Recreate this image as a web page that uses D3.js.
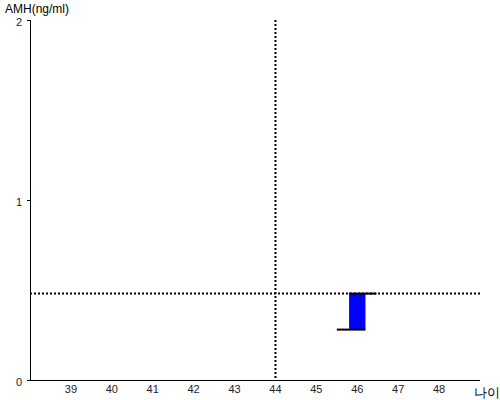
<!DOCTYPE html>
<html>
<head>
<meta charset="utf-8">
<script src="https://cdn.jsdelivr.net/npm/d3@7"></script>
<style>
  body { margin: 0; background: #fff; }
  text { font-family: "Liberation Sans", Arial, sans-serif; }
</style>
</head>
<body>
<script>
// data
const ageTicks = [39, 40, 41, 42, 43, 44, 45, 46, 47, 48];
const amhTicks = [0, 1, 2];
const refAge = 44;          // vertical dotted line
const refAmh = 0.48;        // horizontal dotted line
const barAge = [46];
const barTop = [0.48];
const barBottom = [0.28];

const w = 500, h = 400;

const x = d3.scaleLinear().domain([38, 49]).range([30, 480]);
const y = d3.scaleLinear().domain([0, 2]).range([380, 20]);

const svg = d3.select("body").append("svg")
  .attr("width", w).attr("height", h);

// axes
svg.append("line")
  .attr("x1", x(38) + 0.5).attr("x2", x(38) + 0.5)
  .attr("y1", y(2)).attr("y2", y(0))
  .attr("stroke", "#000").attr("stroke-width", 1);
svg.append("line")
  .attr("x1", x(38)).attr("x2", x(49))
  .attr("y1", y(0) + 0.5).attr("y2", y(0) + 0.5)
  .attr("stroke", "#000").attr("stroke-width", 1);

// y ticks
svg.selectAll(".yt").data(amhTicks).enter().append("line")
  .attr("x1", x(38) - 3).attr("x2", x(38))
  .attr("y1", d => Math.round(y(d)) + 0.5).attr("y2", d => Math.round(y(d)) + 0.5)
  .attr("stroke", "#000");
svg.selectAll(".yl").data(amhTicks).enter().append("text")
  .attr("x", 22).attr("y", d => y(d) + 6)
  .attr("text-anchor", "end")
  .attr("font-size", 11).attr("fill", "#222")
  .text(d => d);

// x labels
svg.selectAll(".xl").data(ageTicks).enter().append("text")
  .attr("x", d => x(d)).attr("y", 393)
  .attr("text-anchor", "middle")
  .attr("font-size", 11).attr("fill", "#222")
  .text(d => d);

// axis titles
svg.append("text").attr("x", 5).attr("y", 13)
  .attr("font-size", 12).attr("fill", "#000")
  .text("AMH(ng/ml)");
svg.append("text").attr("x", 474).attr("y", 397)
  .attr("font-family", "'Noto Sans CJK KR', sans-serif")
  .attr("font-size", 13).attr("fill", "#000")
  .text("나이");

// reference dotted lines
svg.append("line")
  .attr("x1", x(refAge)).attr("x2", x(refAge))
  .attr("y1", y(2)).attr("y2", y(0))
  .attr("stroke", "#000").attr("stroke-width", 2)
  .attr("stroke-dasharray", "2,2");
svg.append("line")
  .attr("x1", x(38)).attr("x2", x(49))
  .attr("y1", y(refAmh)).attr("y2", y(refAmh))
  .attr("stroke", "#000").attr("stroke-width", 2)
  .attr("stroke-dasharray", "2,2");

// bar
const half = 0.2;
svg.selectAll(".bar").data(barAge).enter().append("rect")
  .attr("x", d => x(d - half))
  .attr("y", (d, i) => y(barTop[i]))
  .attr("width", d => x(d + half) - x(d - half))
  .attr("height", (d, i) => y(barBottom[i]) - y(barTop[i]))
  .attr("fill", "#0000ff");
svg.selectAll(".top").data(barAge).enter().append("line")
  .attr("x1", d => x(d - half)).attr("x2", d => x(d + 0.47))
  .attr("y1", (d, i) => y(barTop[i])).attr("y2", (d, i) => y(barTop[i]))
  .attr("stroke", "#000").attr("stroke-width", 2);
svg.selectAll(".bot").data(barAge).enter().append("line")
  .attr("x1", d => x(d - 0.5)).attr("x2", d => x(d + half))
  .attr("y1", (d, i) => y(barBottom[i])).attr("y2", (d, i) => y(barBottom[i]))
  .attr("stroke", "#000").attr("stroke-width", 2);
</script>
</body>
</html>
